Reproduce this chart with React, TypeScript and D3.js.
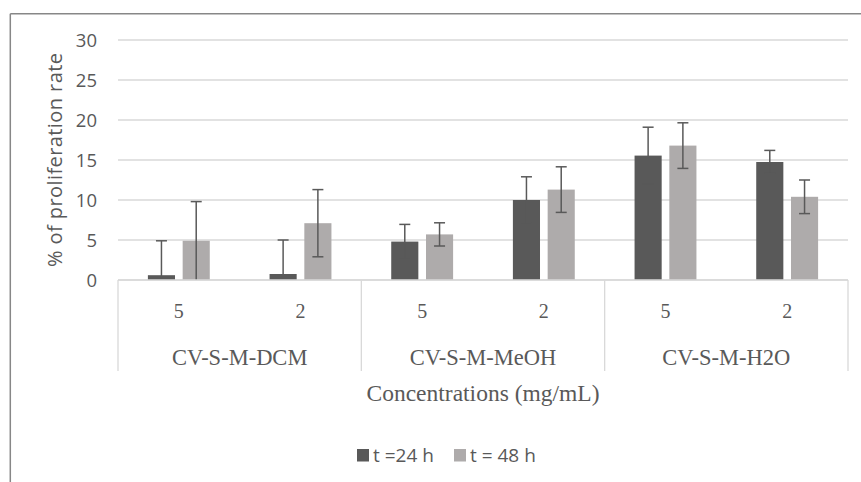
import React from "react";
import * as d3 from "d3";

const groups = ["CV-S-M-DCM", "CV-S-M-MeOH", "CV-S-M-H2O"];
const concentrations = ["5", "2"];
const seriesNames = ["t =24 h", "t = 48 h"];
const values24 = [0.6, 0.75, 4.8, 10.0, 15.55, 14.75];
const errors24 = [4.3, 4.25, 2.15, 2.9, 3.55, 1.45];
const values48 = [4.9, 7.1, 5.7, 11.3, 16.8, 10.4];
const errors48 = [4.9, 4.2, 1.45, 2.85, 2.85, 2.1];
const yTicks = [0, 5, 10, 15, 20, 25, 30];
const colors = ["#595959", "#aeabab"];

const W = 861;
const H = 482;
const plot = { left: 118, right: 848, top: 40, bottom: 280 };

export default function App() {
  const cats = d3.range(groups.length * concentrations.length);
  const x = d3.scaleBand<number>().domain(cats).range([plot.left, plot.right]).padding(0);
  const x1 = d3
    .scaleBand<number>()
    .domain([0, 1])
    .range([0, x.bandwidth()])
    .paddingInner(0.22)
    .paddingOuter(0.86);
  const y = d3.scaleLinear().domain([0, 30]).range([plot.bottom, plot.top]);
  const gx = d3
    .scaleBand<number>()
    .domain(d3.range(groups.length))
    .range([plot.left, plot.right])
    .padding(0);
  const series = [
    { vals: values24, errs: errors24 },
    { vals: values48, errs: errors48 },
  ];
  const textColor = "#595959";
  const sans = "'Open Sans', sans-serif";
  const serif = "'Liberation Serif', serif";
  const capW = 5.5;

  return (
    <svg
      width={W}
      height={H}
      style={{ position: "absolute", left: 0, top: 0, background: "#fff" }}
    >
      <rect x={0} y={0} width={W} height={H} fill="#fff" />
      {/* outer frame */}
      <line x1={10.3} y1={13.8} x2={W + 2} y2={13.8} stroke="#878787" strokeWidth={1.5} />
      <line x1={10.3} y1={13.8} x2={10.3} y2={H + 2} stroke="#878787" strokeWidth={1.5} />

      {/* gridlines */}
      {yTicks.map((t) => (
        <line
          key={"g" + t}
          x1={plot.left}
          x2={plot.right}
          y1={y(t)}
          y2={y(t)}
          stroke="#d9d9d9"
          strokeWidth={1.3}
        />
      ))}
      {/* y tick labels */}
      {yTicks.map((t) => (
        <text
          key={"t" + t}
          x={97}
          y={y(t)}
          dy="0.36em"
          textAnchor="end"
          fontFamily={sans}
          fontSize={18.5}
          fill={textColor}
        >
          {t}
        </text>
      ))}
      {/* y title */}
      <text
        transform={`translate(62,${(53 + 267) / 2}) rotate(-90)`}
        textAnchor="middle"
        fontFamily={sans}
        fontSize={20}
        fill={textColor}
        textLength={214}
        lengthAdjust="spacing"
      >
        % of proliferation rate
      </text>

      {/* bars */}
      {series.map((s, si) =>
        cats.map((c) => {
          const bx = (x(c) as number) + (x1(si) as number);
          const v = s.vals[c];
          return (
            <rect
              key={`b${si}-${c}`}
              x={bx}
              y={y(v)}
              width={x1.bandwidth()}
              height={y(0) - y(v)}
              fill={colors[si]}
            />
          );
        })
      )}
      {/* error bars */}
      {series.map((s, si) =>
        cats.map((c) => {
          const cx = (x(c) as number) + (x1(si) as number) + x1.bandwidth() / 2;
          const v = s.vals[c];
          const e = s.errs[c];
          const top = y(v + e);
          const bot = y(Math.max(0, v - e));
          return (
            <g key={`e${si}-${c}`} stroke="#595959" strokeWidth={1.5}>
              <line x1={cx} x2={cx} y1={top} y2={bot} />
              <line x1={cx - capW} x2={cx + capW} y1={top} y2={top} />
              {v - e > 0 && <line x1={cx - capW} x2={cx + capW} y1={bot} y2={bot} />}
            </g>
          );
        })
      )}

      {/* x axis line */}
      <line x1={plot.left} x2={plot.right} y1={y(0)} y2={y(0)} stroke="#d9d9d9" strokeWidth={1.3} />
      {/* group separators */}
      {d3.range(groups.length + 1).map((i) => {
        const gxp = i < groups.length ? (gx(i) as number) : plot.right;
        return (
          <line
            key={"s" + i}
            x1={gxp}
            x2={gxp}
            y1={y(0)}
            y2={371}
            stroke="#d9d9d9"
            strokeWidth={1.3}
          />
        );
      })}
      {/* concentration labels */}
      {cats.map((c) => (
        <text
          key={"c" + c}
          x={(x(c) as number) + x.bandwidth() / 2}
          y={318}
          textAnchor="middle"
          fontFamily={serif}
          fontSize={20}
          fill={textColor}
        >
          {concentrations[c % concentrations.length]}
        </text>
      ))}
      {/* group labels */}
      {groups.map((g, i) => (
        <text
          key={"gl" + i}
          x={(gx(i) as number) + gx.bandwidth() / 2}
          y={365}
          textAnchor="middle"
          fontFamily={serif}
          fontSize={22.5}
          fill={textColor}
        >
          {g}
        </text>
      ))}
      {/* x title */}
      <text
        x={(plot.left + plot.right) / 2}
        y={401}
        textAnchor="middle"
        fontFamily={serif}
        fontSize={23.5}
        fill={textColor}
      >
        Concentrations (mg/mL)
      </text>

      {/* legend */}
      <rect x={357} y={449} width={12} height={12.5} fill={colors[0]} />
      <text x={373} y={461.5} fontFamily={sans} fontSize={19} fill={textColor}>
        {seriesNames[0]}
      </text>
      <rect x={454} y={449} width={12} height={12.5} fill={colors[1]} />
      <text x={470} y={461.5} fontFamily={sans} fontSize={19} fill={textColor}>
        {seriesNames[1]}
      </text>
    </svg>
  );
}
